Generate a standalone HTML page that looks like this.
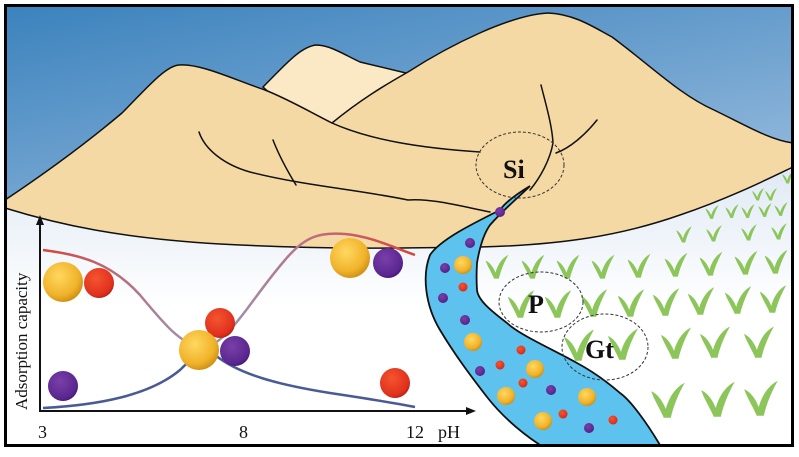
<!DOCTYPE html>
<html><head><meta charset="utf-8"><style>html,body{margin:0;padding:0;background:#fff;width:799px;height:457px;overflow:hidden}</style></head>
<body>
<svg width="799" height="457" viewBox="0 0 799 457" xmlns="http://www.w3.org/2000/svg" font-family="Liberation Serif, serif">
<defs>
<linearGradient id="sky" x1="0" y1="0" x2="0.35" y2="1">
<stop offset="0" stop-color="#3b82bd"/><stop offset="0.6" stop-color="#8db5da"/><stop offset="1" stop-color="#e6eef7"/>
</linearGradient>
<linearGradient id="grass" x1="0" y1="0" x2="0" y2="1"><stop offset="0" stop-color="#dfe9f4"/><stop offset="0.5" stop-color="#fff"/></linearGradient>
<radialGradient id="yb" cx="0.4" cy="0.35" r="0.7"><stop offset="0" stop-color="#ffd860"/><stop offset="0.7" stop-color="#f0b22a"/><stop offset="1" stop-color="#c98a10"/></radialGradient>
<radialGradient id="rb" cx="0.4" cy="0.35" r="0.7"><stop offset="0" stop-color="#f4552f"/><stop offset="0.8" stop-color="#e0301d"/><stop offset="1" stop-color="#b01f12"/></radialGradient>
<radialGradient id="pb" cx="0.4" cy="0.35" r="0.7"><stop offset="0" stop-color="#7a3fa8"/><stop offset="0.8" stop-color="#5b2690"/><stop offset="1" stop-color="#3f1870"/></radialGradient>
<linearGradient id="rc" x1="0" y1="0" x2="1" y2="0"><stop offset="0" stop-color="#d6443a"/><stop offset="0.35" stop-color="#a48aa8"/><stop offset="0.5" stop-color="#9a94b0"/><stop offset="0.75" stop-color="#c06a78"/><stop offset="1" stop-color="#d6443a"/></linearGradient>
<g id="sp" fill="#8cc55a"><path d="M0,6 C-2,-3 -7,-10 -12,-12 C-10,-6 -6,0 -3,7 Z"/><path d="M-3,7 C-1,-5 4,-14 12,-18 C8,-11 4,-2 2,7 Z"/></g>
</defs>
<rect x="5" y="5" width="788" height="441" fill="url(#sky)"/>
<path d="M5,208 C60,225 120,238 220,244 C330,250 420,248 480,247 C560,245 620,236 680,215 C730,198 770,178 793,167 L793,446 L5,446 Z" fill="url(#grass)"/>
<path d="M263,87 C285,65 300,47 316,45 C330,45 345,55 360,62 L406,73 L380,130 L300,120 Z" fill="#fbe9c6" stroke="#111" stroke-width="1.5"/>
<path d="M5,200 C50,170 90,140 122,113 C145,90 165,66 179,65 C200,63 235,80 265,90 C290,100 310,112 332,123 C360,100 385,85 408,72 C450,45 510,15 548,13 C575,14 595,28 612,37 C650,65 680,95 714,110 C745,125 770,140 793,143 L793,167 C770,178 730,198 680,215 C620,236 560,245 480,247 C420,248 330,250 220,244 C120,238 60,225 5,208 Z" fill="#f5d9a5"/>
<g fill="none" stroke="#111" stroke-width="1.5" stroke-linecap="round">
<path d="M5,200 C50,170 90,140 122,113 C145,90 165,66 179,65 C200,63 235,80 265,90 C290,100 310,112 332,123 C370,140 420,148 480,152"/>
<path d="M332,123 C360,100 385,85 408,72 C450,45 510,15 548,13 C575,14 595,28 612,37 C650,65 680,95 714,110 C745,125 770,140 793,143"/>
<path d="M5,208 C60,225 120,238 220,244 C330,250 420,248 480,247"/>
<path d="M480,247 C560,245 620,236 680,215 C730,198 770,178 793,167"/>
<path d="M199,132 C205,150 225,165 250,172 C300,185 360,190 408,200 C430,198 460,206 490,212"/>
<path d="M273,140 C280,158 288,172 296,185"/>
<path d="M541,85 C546,105 552,125 553,143 C550,160 540,178 530,190"/>
<path d="M597,120 C585,135 570,148 556,153"/>
</g>
<g>
<use href="#sp" transform="translate(788,180) scale(0.5)"/>
<use href="#sp" transform="translate(758,197) scale(0.5)"/><use href="#sp" transform="translate(771,197) scale(0.5)"/>
<use href="#sp" transform="translate(712,215) scale(0.55)"/><use href="#sp" transform="translate(732,214) scale(0.55)"/><use href="#sp" transform="translate(748,214) scale(0.55)"/><use href="#sp" transform="translate(765,213) scale(0.55)"/><use href="#sp" transform="translate(781,212) scale(0.55)"/>
<use href="#sp" transform="translate(684,238) scale(0.65)"/><use href="#sp" transform="translate(714,237) scale(0.65)"/><use href="#sp" transform="translate(749,236) scale(0.65)"/><use href="#sp" transform="translate(779,235) scale(0.65)"/>
<use href="#sp" transform="translate(497,272) scale(0.95)"/><use href="#sp" transform="translate(533,272) scale(0.95)"/><use href="#sp" transform="translate(568,272) scale(0.95)"/><use href="#sp" transform="translate(603,272) scale(0.95)"/><use href="#sp" transform="translate(639,271) scale(0.95)"/><use href="#sp" transform="translate(676,270) scale(0.95)"/><use href="#sp" transform="translate(711,269) scale(0.95)"/><use href="#sp" transform="translate(746,268) scale(0.95)"/><use href="#sp" transform="translate(776,267) scale(0.95)"/>
<use href="#sp" transform="translate(521,310) scale(1.1)"/><use href="#sp" transform="translate(558,310) scale(1.1)"/><use href="#sp" transform="translate(594,309) scale(1.1)"/><use href="#sp" transform="translate(631,309) scale(1.1)"/><use href="#sp" transform="translate(666,308) scale(1.1)"/><use href="#sp" transform="translate(701,307) scale(1.1)"/><use href="#sp" transform="translate(738,306) scale(1.1)"/><use href="#sp" transform="translate(773,305) scale(1.1)"/>
<use href="#sp" transform="translate(579,352) scale(1.25)"/><use href="#sp" transform="translate(623,351) scale(1.25)"/><use href="#sp" transform="translate(676,350) scale(1.25)"/><use href="#sp" transform="translate(715,349) scale(1.25)"/><use href="#sp" transform="translate(759,349) scale(1.25)"/>
<use href="#sp" transform="translate(668,408) scale(1.4)"/><use href="#sp" transform="translate(718,407) scale(1.4)"/><use href="#sp" transform="translate(761,406) scale(1.4)"/>
</g>
<path d="M530,186 C515,195 505,203 500,210 C470,225 440,240 430,255 C422,275 425,305 440,330 C455,355 470,375 487,397 C505,420 525,435 540,445 L660,445 C645,420 630,400 620,393 C605,380 590,370 577,363 C550,348 520,335 507,323 C490,310 478,300 477,290 C476,275 477,265 477,263 C480,245 485,232 490,225 C505,208 520,196 530,186 Z" fill="#5dc3ee" stroke="#111" stroke-width="1.8"/>
<g>
<circle cx="500" cy="212" r="5" fill="url(#pb)"/><circle cx="470" cy="243" r="5" fill="url(#pb)"/><circle cx="445" cy="268" r="5" fill="url(#pb)"/><circle cx="443" cy="298" r="5" fill="url(#pb)"/><circle cx="465" cy="320" r="5" fill="url(#pb)"/><circle cx="480" cy="371" r="5" fill="url(#pb)"/><circle cx="551" cy="390" r="5" fill="url(#pb)"/><circle cx="589" cy="428" r="5" fill="url(#pb)"/>
<circle cx="463" cy="287" r="4.5" fill="url(#rb)"/><circle cx="521" cy="350" r="4.5" fill="url(#rb)"/><circle cx="500" cy="365" r="4.5" fill="url(#rb)"/><circle cx="523" cy="383" r="4.5" fill="url(#rb)"/><circle cx="563" cy="414" r="4.5" fill="url(#rb)"/><circle cx="613" cy="420" r="4.5" fill="url(#rb)"/>
<circle cx="463" cy="265" r="9" fill="url(#yb)"/><circle cx="473" cy="342" r="9" fill="url(#yb)"/><circle cx="535" cy="369" r="9" fill="url(#yb)"/><circle cx="506" cy="396" r="9" fill="url(#yb)"/><circle cx="587" cy="397" r="9" fill="url(#yb)"/><circle cx="543" cy="421" r="9" fill="url(#yb)"/>
</g>
<g fill="none" stroke="#333" stroke-width="1" stroke-dasharray="3,2">
<ellipse cx="520" cy="165" rx="44" ry="33"/>
<ellipse cx="541" cy="302" rx="42" ry="30"/>
<ellipse cx="605" cy="347" rx="43" ry="33"/>
</g>
<g font-weight="bold" fill="#111" font-size="26">
<text x="503" y="178">Si</text>
<text x="528" y="313">P</text>
<text x="585" y="358">Gt</text>
</g>
<path d="M43,250 C80,255 110,262 140,295 C165,325 180,343 200,347 C225,350 250,300 285,260 C305,236 320,232 345,234 C370,236 395,248 415,255" fill="none" stroke="url(#rc)" stroke-width="2.5"/>
<path d="M43,408 C100,405 150,395 180,370 C195,355 205,348 215,355 C240,375 280,385 330,393 C370,399 400,404 415,407" fill="none" stroke="#4a5a95" stroke-width="2.5"/>
<g stroke="#111" stroke-width="2" fill="#111">
<line x1="40" y1="411" x2="40" y2="222"/><path d="M40,215 L36,225 L44,225 Z" stroke="none"/>
<line x1="39" y1="411" x2="468" y2="411"/><path d="M476,411 L466,407 L466,415 Z" stroke="none"/>
</g>
<circle cx="63" cy="282" r="20" fill="url(#yb)"/><circle cx="99" cy="283" r="15" fill="url(#rb)"/>
<circle cx="63" cy="386" r="15" fill="url(#pb)"/>
<circle cx="220" cy="323" r="15" fill="url(#rb)"/><circle cx="199" cy="350" r="20" fill="url(#yb)"/><circle cx="235" cy="351" r="15" fill="url(#pb)"/>
<circle cx="350" cy="258" r="20" fill="url(#yb)"/><circle cx="388" cy="263" r="15" fill="url(#pb)"/>
<circle cx="395" cy="383" r="15" fill="url(#rb)"/>
<g font-size="18" fill="#111">
<text x="38" y="438">3</text><text x="239" y="438">8</text><text x="406" y="438">12</text><text x="438" y="438">pH</text>
<text transform="translate(27,410) rotate(-90)" font-size="17">Adsorption capacity</text>
</g>
<rect x="5.5" y="5.5" width="787" height="440" fill="none" stroke="#000" stroke-width="3"/>
</svg>
</body></html>
